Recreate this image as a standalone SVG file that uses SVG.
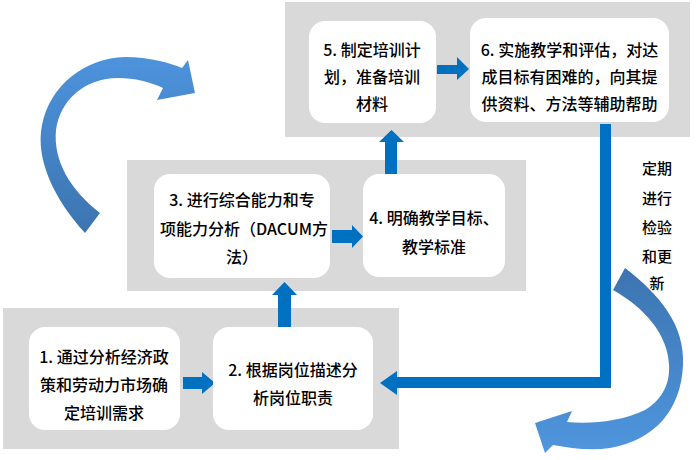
<svg xmlns="http://www.w3.org/2000/svg" width="696" height="460" viewBox="0 0 696 460">
<defs>
<style>
.panel{fill:#d9d9d9}
.box{fill:#ffffff}
.t{font-family:"Noto Sans CJK SC","Liberation Sans",sans-serif;font-size:16px;font-weight:500;fill:#000;text-anchor:middle}
.side{font-size:15px}
.conn{fill:#0070c0}
</style>
<linearGradient id="gL" x1="0" y1="0" x2="0" y2="1">
<stop offset="0" stop-color="#4d93dc"/>
<stop offset="1" stop-color="#3c74b0"/>
</linearGradient>
<linearGradient id="gR" x1="0" y1="0" x2="0" y2="1">
<stop offset="0" stop-color="#3c74b0"/>
<stop offset="1" stop-color="#4f96de"/>
</linearGradient>
</defs>
<rect width="696" height="460" fill="#ffffff"/>
<g id="panels">
<rect class="panel" x="285" y="2" width="405" height="135"/>
<rect class="panel" x="127" y="160" width="399" height="131"/>
<rect class="panel" x="3" y="308" width="396" height="141"/>
</g>
<g id="connectors">
<polygon class="conn" points="437,65 457,65 457,57 469,69 457,80 457,74 437,74"/>
<polygon class="conn" points="332,230 352,230 352,225 363,236.5 352,248 352,243 332,243"/>
<polygon class="conn" points="183,377 202,377 202,372 215,383 202,394 202,389 183,389"/>
<polygon class="conn" points="278,327 278,295 272,295 284.5,282 297,295 291,295 291,327"/>
<polygon class="conn" points="385,174 385,142 379,142 391.5,130 404,142 397,142 397,174"/>
<polygon class="conn" points="600,124 611,124 611,388 397,388 397,395 380,383 397,371 397,377 600,377"/>
<path fill="url(#gL)" d="M85,233 C55,200 35,160 42,125 C50,85 85,58 125,57 C150,57 170,63 182,68 L188,60 L195,93 L157,100 L163,88 C150,82 135,78 118,78 C85,78 60,100 56,130 C53,160 70,190 100,213 Z"/>
<path fill="url(#gR)" d="M625,268 C660,295 685,325 683,365 C681,410 655,440 610,448 C590,451 570,448 553,445 L545,453 L535,423 L572,411 L567,422 C590,424 620,422 645,410 C665,398 670,380 669,365 C668,335 645,308 613,290 Z"/>
</g>
<g id="node1">
<rect class="box" x="29" y="327" width="151" height="103" rx="16"/>
<text class="t" x="104" y="363">1. 通过分析经济政</text>
<text class="t" x="104" y="391">策和劳动力市场确</text>
<text class="t" x="104" y="419">定培训需求</text>
</g>
<g id="node2">
<rect class="box" x="213" y="327" width="160" height="103" rx="16"/>
<text class="t" x="293" y="376">2. 根据岗位描述分</text>
<text class="t" x="293" y="404">析岗位职责</text>
</g>
<g id="node3">
<rect class="box" x="154" y="174" width="176" height="104" rx="16"/>
<text class="t" x="242" y="206">3. 进行综合能力和专</text>
<text class="t" x="244" y="235">项能力分析（DACUM方</text>
<text class="t" x="242" y="263">法）</text>
</g>
<g id="node4">
<rect class="box" x="363" y="174" width="142" height="103" rx="16"/>
<text class="t" x="434" y="224">4. 明确教学目标、</text>
<text class="t" x="434" y="253">教学标准</text>
</g>
<g id="node5">
<rect class="box" x="309" y="21" width="127" height="102" rx="16"/>
<text class="t" x="372" y="56">5. 制定培训计</text>
<text class="t" x="372" y="83">划，准备培训</text>
<text class="t" x="372" y="110">材料</text>
</g>
<g id="node6">
<rect class="box" x="470" y="18" width="199" height="104" rx="16"/>
<text class="t" x="569.5" y="56">6. 实施教学和评估，对达</text>
<text class="t" x="569.5" y="83">成目标有困难的，向其提</text>
<text class="t" x="569.5" y="110">供资料、方法等辅助帮助</text>
</g>
<g id="label">
<text class="t side" x="657" y="174">定期</text>
<text class="t side" x="657" y="204">进行</text>
<text class="t side" x="657" y="233">检验</text>
<text class="t side" x="657" y="262">和更</text>
<text class="t side" x="657" y="289">新</text>
</g>
</svg>
